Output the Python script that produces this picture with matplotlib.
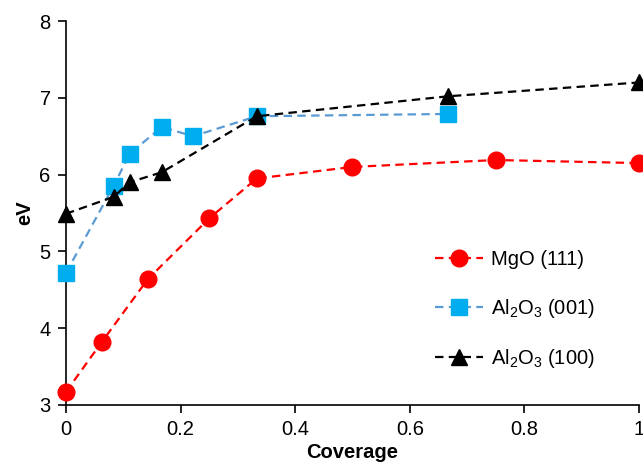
import matplotlib.pyplot as plt

plt.rcParams['font.family'] = ['Liberation Sans', 'DejaVu Sans']
plt.rcParams['mathtext.fontset'] = 'custom'
plt.rcParams['mathtext.rm'] = 'Liberation Sans'

# MgO (111)
mgo_x = [0, 0.0625, 0.143, 0.25, 0.333, 0.5, 0.75, 1.0]
mgo_y = [3.17, 3.82, 4.64, 5.43, 5.95, 6.10, 6.19, 6.15]

# Al2O3 (001)
al001_x = [0, 0.083, 0.111, 0.167, 0.222, 0.333, 0.667]
al001_y = [4.72, 5.85, 6.27, 6.62, 6.50, 6.76, 6.79]

# Al2O3 (100)
al100_x = [0, 0.083, 0.111, 0.167, 0.333, 0.667, 1.0]
al100_y = [5.49, 5.71, 5.90, 6.03, 6.76, 7.02, 7.20]

fig = plt.figure(figsize=(6.43, 4.63), dpi=100)
ax = fig.add_axes([0.1026, 0.1253, 0.8912, 0.8293])

ax.plot(mgo_x, mgo_y, linestyle='--', dashes=(3.8, 2.4), color='#FF0000', lw=1.6,
        marker='o', markersize=12, markerfacecolor='#FF0000', markeredgecolor='#FF0000',
        label='MgO (111)', clip_on=False, zorder=3)
ax.plot(al001_x, al001_y, linestyle='--', dashes=(3.8, 2.4), color='#5B9BD5', lw=1.6,
        marker='s', markersize=11.5, markerfacecolor='#00AEEF', markeredgecolor='#00AEEF',
        label=r'Al$\mathregular{_2}$O$\mathregular{_3}$ (001)', clip_on=False, zorder=3)
ax.plot(al100_x, al100_y, linestyle='--', dashes=(3.8, 2.4), color='black', lw=1.6,
        marker='^', markersize=12, markerfacecolor='black', markeredgecolor='black',
        label=r'Al$\mathregular{_2}$O$\mathregular{_3}$ (100)', clip_on=False, zorder=4)

ax.set_xlim(0, 1)
ax.set_ylim(3, 8)
ax.set_xticks([0, 0.2, 0.4, 0.6, 0.8, 1])
ax.set_xticklabels(['0', '0.2', '0.4', '0.6', '0.8', '1'])
ax.set_yticks([3, 4, 5, 6, 7, 8])

ax.spines['top'].set_visible(False)
ax.spines['right'].set_visible(False)
ax.spines['left'].set_linewidth(1.2)
ax.spines['bottom'].set_linewidth(1.2)
ax.tick_params(direction='out', length=6, width=1.2, labelsize=14.5)
ax.tick_params(axis='x', pad=5)
ax.tick_params(axis='y', pad=5)

ax.set_xlabel('Coverage', fontsize=14.5, fontweight='bold', labelpad=2.5)
ax.set_ylabel('eV', fontsize=14.5, fontweight='bold', labelpad=4)

ax.legend(loc='center left', bbox_to_anchor=(0.613, 0.247), frameon=False,
          fontsize=14.5, labelspacing=1.38, handlelength=2.35, handletextpad=0.4)

plt.savefig('out.png', dpi=100)
